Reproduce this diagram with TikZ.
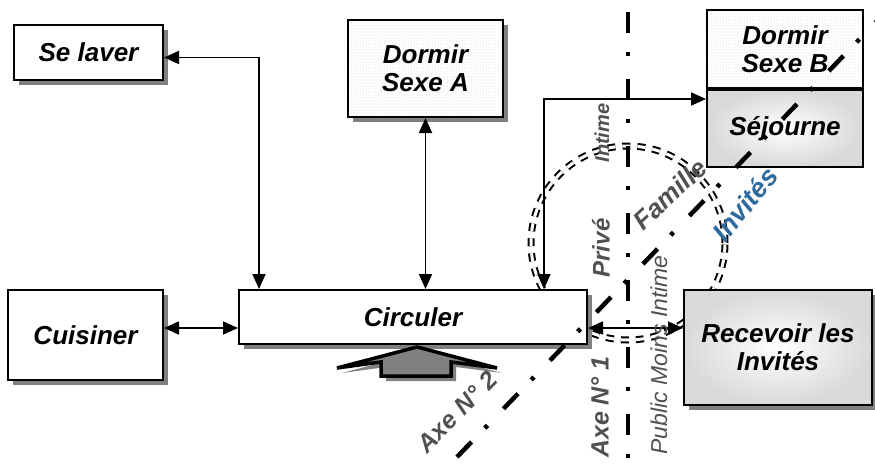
\documentclass[tikz,border=0pt]{standalone}
\usepackage{fontspec}
\setmainfont{Liberation Sans}
\usepackage{tikz}
\usetikzlibrary{arrows.meta,calc,positioning,shadows,patterns}
\definecolor{labelgray}{HTML}{505050}
\definecolor{guestblue}{HTML}{2E6A9E}
\definecolor{shadowgray}{HTML}{808080}

\begin{document}
\begin{tikzpicture}[x=1pt,y=1pt,
    room/.style={draw,line width=2pt,inner sep=0pt,align=center,
      font=\fontsize{26}{28}\selectfont\bfseries\itshape},
    shade box/.style={drop shadow={shadow xshift=5pt,shadow yshift=-5pt,fill=shadowgray,opacity=1}},
    dots fill/.style={preaction={fill=white},pattern=dots,pattern color=gray!40},
    marble/.style={inner color=white,outer color=gray!30},
    link/.style={line width=1.8pt,{Triangle[length=15pt,width=13pt]}-{Triangle[length=15pt,width=13pt]}},
    axis line/.style={line width=4.5pt,dash pattern=on 21pt off 19pt on 4pt off 23pt},
    zone/.style={labelgray,font=\fontsize{24}{26}\selectfont\bfseries\itshape},
  ]
    \useasboundingbox (0,0) rectangle (875,467);

    % family zone
    \draw[double,double distance=3pt,line width=2pt,dash pattern=on 8pt off 7pt]
      (628,224) circle (97);

    \node[room,shade box,fill=white,minimum width=149pt,minimum height=55pt] (wash) at (88.5,414.5) {Se laver};
    \node[room,shade box,dots fill,minimum width=155pt,minimum height=97pt] (sleepA) at (425.5,398.5) {Dormir\\Sexe A};
    \node[room,dots fill,minimum width=156pt,minimum height=78pt] (sleepB) at (785,418) {Dormir\\Sexe B};
    \node[room,marble,minimum width=156pt,minimum height=77pt,below=0pt of sleepB] (living) {Séjourne};
    \node[room,shade box,fill=white,minimum width=155pt,minimum height=90pt] (cook) at (85.5,132) {Cuisiner};
    \node[room,shade box,fill=white,minimum width=348pt,minimum height=54pt] (move) at (413,150) {Circuler};
    \node[room,shade box,marble,minimum width=188pt,minimum height=115pt] (guests) at (778,119.5) {Recevoir les\\Invités};

    \draw[link] ([yshift=-5pt]wash.east) -| ([xshift=21pt]move.north west);
    \draw[link] (sleepA.south) -- (sleepA.south |- move.north);
    \coordinate (kc) at ([yshift=7pt]cook.east);
    \draw[link] (kc) -- (kc -| move.west);
    \draw[link] ([yshift=-10pt]living.north west) -| ([xshift=-44pt]move.north east);
    \coordinate (mg) at ([yshift=-11pt]move.east);
    \draw[link] (mg) -- (mg -| guests.west);

    % entrance
    \fill[shadowgray,shift={(5,-5)}] (417,120) -- (497,99) -- (451,105) -- (451,91)
      -- (381,91) -- (381,105) -- (337,99) -- cycle;
    \filldraw[fill=shadowgray,line width=3.5pt] (417,120) -- (497,99) -- (451,105) -- (451,91)
      -- (381,91) -- (381,105) -- (337,99) -- cycle;

    % axes
    \draw[axis line] (628,455) -- (628,0);
    \draw[axis line] (457,10) -- (877,446);

    \node[zone,font=\fontsize{20}{22}\selectfont\bfseries\itshape,rotate=90] (intimeLbl) at (602,334) {Intime};
    \node[zone,rotate=90] (priveLbl) at (601,219) {Privé};
    \node[zone,font=\fontsize{23}{25}\selectfont\itshape,rotate=90] (publicLbl) at (659,112) {Public Moins Intime};
    \node[zone,font=\fontsize{25}{27}\selectfont\bfseries\itshape,rotate=90] (axeOne) at (600,60) {Axe N° 1};
    \node[zone,font=\fontsize{25}{27}\selectfont\bfseries\itshape,rotate=45] (axeTwo) at (457,55) {Axe N° 2};
    \node[zone,font=\fontsize{26}{28}\selectfont\bfseries\itshape,rotate=43] (famLbl) at (670,273) {Famille};
    \node[guestblue,font=\fontsize{27}{29}\selectfont\bfseries\itshape,rotate=51] (guestLbl) at (745,263) {Invités};
  \end{tikzpicture}
\end{document}
